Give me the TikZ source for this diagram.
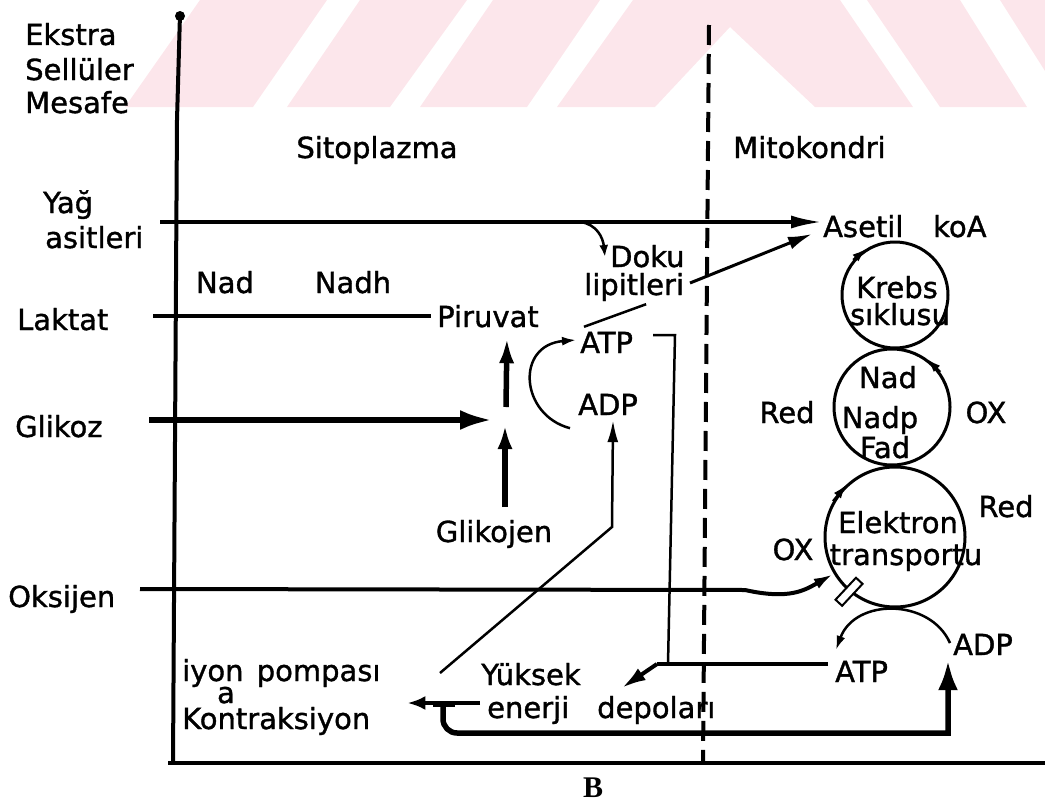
\documentclass[tikz,border=0pt]{standalone}
\usepackage{fontspec}
\setmainfont{DejaVu Sans}[BoldFont={DejaVu Sans},BoldFeatures={FakeBold=1.2}]
\newfontfamily\bserif{Liberation Serif}
\usetikzlibrary{arrows.meta,calc}
\definecolor{wm}{RGB}{252,230,235}
\begin{document}
\begin{tikzpicture}[x=1pt,y=-1pt,
  lab/.style={inner sep=0pt,text height=20pt,text depth=0pt,font=\fontsize{29}{31}\selectfont\bfseries},
  ring/.style={circle,draw,line width=3pt,inner sep=0pt},
  thinln/.style={line width=2.5pt},
  medln/.style={line width=4pt},
  thickln/.style={line width=5.5pt},
  smalltip/.style={-{Latex[length=14pt,width=9pt]}}]
\useasboundingbox (0,0) rectangle (1045,803);
% watermark
\fill[wm] (200,0) -- (327,0) -- (253,107) -- (125,107) -- cycle;
\fill[wm] (360,0) -- (467,0) -- (390,107) -- (287,107) -- cycle;
\fill[wm] (493,0) -- (600,0) -- (527,107) -- (420,107) -- cycle;
\fill[wm] (633,0) -- (840,0) -- (913,107) -- (815,107) -- (730,27) -- (655,107) -- (557,107) -- cycle;
\fill[wm] (867,0) -- (960,0) -- (1027,107) -- (940,107) -- cycle;
\fill[wm] (1000,0) -- (1045,0) -- (1045,71) -- cycle;

% frame lines
\fill (180,16) circle[radius=5pt];
\draw[line width=4pt] (180,14) -- (177,120) -- (173,763);
\draw[line width=3.5pt] (168,763) -- (1045,763);
\draw[line width=4pt,dash pattern=on 20pt off 9pt] (709,25) -- (703,763);

% labels
\node[lab,anchor=west] (ekstra) at (25,35) {Ekstra};
\node[lab,anchor=west] (selluler) at (25,70) {Sellüler};
\node[lab,anchor=west] (mesafe) at (25,103) {Mesafe};
\node[lab] (sito) at (377,148) {Sitoplazma};
\node[lab,anchor=west] (mito) at (733,148) {Mitokondri};
\node[lab,anchor=west] (yag) at (43,203) {Yağ};
\node[lab,anchor=west] (asitleri) at (45,238) {asitleri};
\node[lab] (nad) at (225,283) {Nad};
\node[lab] (nadh) at (353,283) {Nadh};
\node[lab,anchor=west] (laktat) at (17,320) {Laktat};
\node[lab,anchor=west] (piruvat) at (437,317) {Piruvat};
\node[lab,anchor=west] (glikoz) at (15,427) {Glikoz};
\node[lab] (glikojen) at (494,532) {Glikojen};
\node[lab,anchor=west] (oksijen) at (8,597) {Oksijen};
\node[lab,anchor=west] (atpa) at (580,343) {ATP};
\node[lab,anchor=west] (adpa) at (578,405) {ADP};
\node[lab,anchor=west] (doku) at (610,257) {Doku};
\node[lab,anchor=west] (lipit) at (584,285) {lipitleri};
\node[lab,anchor=west] (asetil) at (823,227) {Asetil};
\node[lab,anchor=west] (koa) at (933,227) {koA};

\node[ring,minimum size=106pt] (krebs) at (895,295) {};
\node[lab] (krebst) at (897,288) {Krebs};
\node[lab] (siklus) at (900,315) {sıklusu};
\node[ring,minimum size=116pt] (nadc) at (892,407) {};
\node[lab] (nadt) at (888,378) {Nad};
\node[lab] (nadp) at (880,418) {Nadp};
\node[lab] (fad) at (885,448) {Fad};
\node[ring,minimum size=140pt] (elek) at (895,537) {};
\node[lab] (elekt) at (898,523) {Elektron};
\node[lab] (transp) at (906,555) {transportu};

\node[lab] (reda) at (787,413) {Red};
\node[lab] (oxa) at (986,413) {OX};
\node[lab] (redb) at (1006,507) {Red};
\node[lab] (oxb) at (793,550) {OX};

\node[lab,anchor=west] (atpb) at (835,672) {ATP};
\node[lab,anchor=west] (adpb) at (953,645) {ADP};

\node[lab,anchor=west] (iyon) at (182,671) {iyon\hspace{4pt} pompası};
\node[lab,text height=12pt] (iyona) at (226,697) {a};
\node[lab,anchor=west] (kontr) at (182,719) {Kontraksiyon};
\node[lab] (yuksek) at (531,675) {Yüksek};
\node[lab,anchor=west] (enerji) at (487,708) {enerji};
\node[lab,anchor=west] (depolari) at (597,708) {depoları};
\node[inner sep=0pt,font=\bserif\bfseries\fontsize{30}{30}\selectfont] (bmark) at (593,788) {B};

% coordinates
\coordinate (yagstart) at (160,222);
\coordinate (yagbranch) at (580,222);
\coordinate (laktatstart) at (153,316);
\coordinate (glikozstart) at (149,420);
\coordinate (junction) at (492,420);
\coordinate (glikojenup) at (505,507);
\coordinate (jtop) at (506,407);
\coordinate (oksstart) at (140,589);
\coordinate (dokuout) at (690,283);
\coordinate (kink) at (612,527);
\coordinate (iyonline) at (440,673);
\coordinate (split) at (657,664);
\coordinate (tj) at (443,704);

% connectors
\draw[medln,-{Latex[length=32pt,width=13pt]}] (yagstart) -- (asetil.west |- yagstart);
\draw[thinln,-{Latex[length=12pt,width=9pt]}] (yagbranch) .. controls (597,224) and (603,238) .. ($(doku.west)+(-5,0)$);
\draw[line width=3pt,-{Latex[length=24pt,width=13pt]}] (dokuout) -- ($(asetil.west)+(-11,7)$);
\draw[thinln] ($(atpa.north west)+(4,-6)$) -- ($(lipit.south)+(12,9)$);
\draw[medln] (laktatstart) -- ($(piruvat.west)+(-6,-1)$);
\draw[thickln,-{Latex[length=32pt,width=20pt]}] (glikozstart) -- (junction);
\draw[thickln,-{Latex[length=24pt,width=15pt]}] (glikojenup) -- ($(glikojenup)+(0,-82)$);
\draw[thickln,-{Latex[length=26pt,width=15pt]}] (jtop) -- ($(piruvat.south)+(19,10)$);
\draw[thinln,smalltip] ($(adpa.south west)+(-8,13)$) .. controls (520,415) and (515,345) .. ($(atpa.west)+(-4,-3)$);
\draw[thinln] ($(atpa.east)+(20,-8)$) -- (675,335) -- (split -| 668,0);
\draw[medln] ($(atpb.west)+(-7,-8)$) -- (split);
\draw[medln,-{Latex[length=24pt,width=14pt]}] (split) -- ($(depolari.north west)+(25,-10)$);
\draw[thinln,-{Latex[length=22pt,width=11pt]}] (iyonline) -- (kink) -- ($(adpa.south)+(5,5)$);
\draw[medln,-{Latex[length=20pt,width=11pt]}] (oksstart) -- (745,590) .. controls (790,600) and (805,590) .. (elek.211);
\node[draw,fill=white,line width=2pt,minimum width=30pt,minimum height=9pt,inner sep=0pt,rotate=47] (gate) at (elek.230) {};
\draw[thinln,smalltip] (krebs.140) -- (krebs.122);
\draw[thinln,smalltip] (nadc.36) -- (nadc.54);
\draw[thinln,smalltip] (elek.150) -- (elek.133);
\draw[thinln,smalltip] ($(adpb.west)+(-3,-2)$) .. controls (930,598) and (855,598) .. ($(atpb.north west)+(1,-12)$);
\draw[thickln,-{Latex[length=30pt,width=20pt]}] (tj) [rounded corners=14pt] -- (443,733) [sharp corners] -- (948,733) -- ($(adpb.south west)+(-5,5)$);
\draw[thickln] (433,704) -- (455,704);
\draw[medln,-{Latex[length=18pt,width=14pt]}] ($(enerji.west)+(-7,-5)$) -- ($(kontr.east)+(37,-16)$);
\end{tikzpicture}
\end{document}
